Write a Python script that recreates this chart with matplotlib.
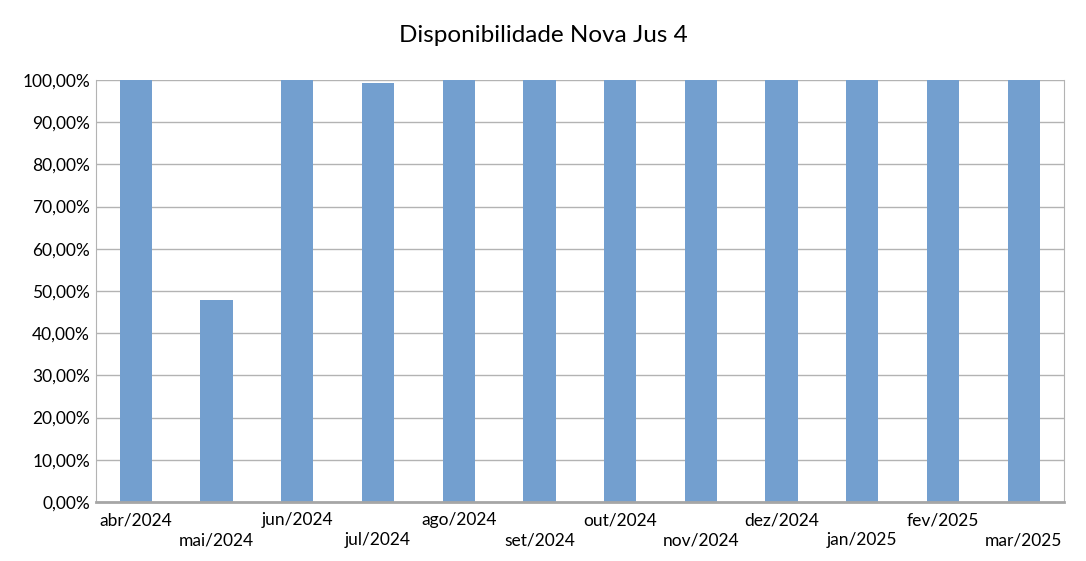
import matplotlib
matplotlib.use("Agg")
import matplotlib.pyplot as plt
from matplotlib.ticker import FuncFormatter

plt.rcParams['font.family'] = ['Lato', 'DejaVu Sans']

categories = ["abr/2024", "mai/2024", "jun/2024", "jul/2024", "ago/2024", "set/2024",
              "out/2024", "nov/2024", "dez/2024", "jan/2025", "fev/2025", "mar/2025"]
values = [100.0, 47.9, 100.0, 99.3, 100.0, 100.0, 100.0, 100.0, 100.0, 100.0, 100.0, 100.0]
yticks = [0, 10, 20, 30, 40, 50, 60, 70, 80, 90, 100]
title = "Disponibilidade Nova Jus 4"

fig = plt.figure(figsize=(10.86, 5.61), dpi=100)
ax = fig.add_axes([95.5/1086, 1-502/561, (1064-95.5)/1086, (502-80)/561])

x = list(range(len(categories)))
ax.bar(x, values, width=0.4, color="#739FCF", zorder=3)

ax.set_xlim(-0.5, len(categories)-0.5)
ax.set_ylim(0, 100)
ax.set_yticks(yticks)
ax.yaxis.set_major_formatter(FuncFormatter(lambda v, p: f"{v:.2f}".replace('.', ',') + "%"))
ax.grid(axis='y', color="#B3B3B3", linewidth=1.0, zorder=0)
ax.tick_params(axis='y', length=0, labelsize=12.5, pad=4, colors="black")
ax.tick_params(axis='x', length=0)
ax.set_xticks(x)
ax.set_xticklabels([])

for i, c in enumerate(categories):
    ax.annotate(c, xy=(i, 0), xycoords=('data', 'axes fraction'),
                xytext=(0, -18 if i % 2 == 0 else -38), textcoords='offset pixels',
                ha='center', va='center', fontsize=12.5, color='black')

ax.spines['top'].set_visible(False)
ax.spines['right'].set_color("#B3B3B3")
ax.spines['left'].set_color("#B3B3B3")
ax.spines['bottom'].set_color("#A6A6A6")
ax.spines['bottom'].set_linewidth(2.0)
ax.spines['bottom'].set_zorder(4)

fig.text(543/1086, 1-36/561, title, ha='center', va='center', fontsize=17.5, color='black')

fig.savefig("out.png", dpi=100, facecolor='white')
